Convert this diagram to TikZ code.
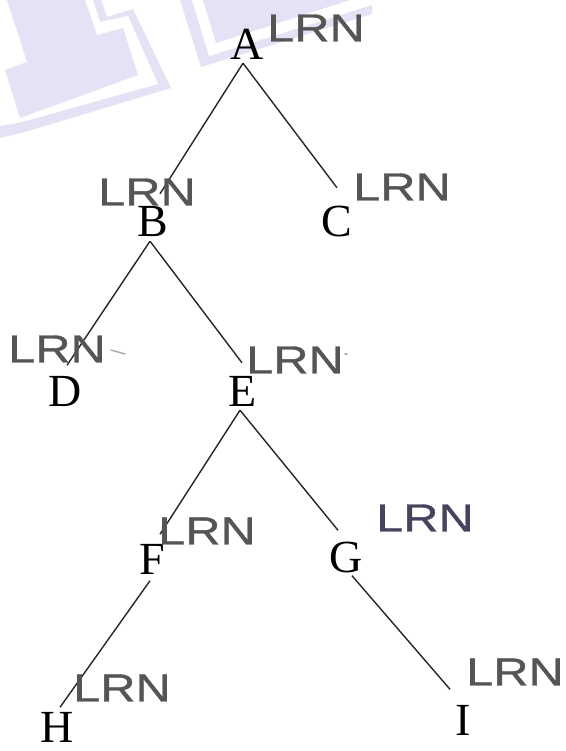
\documentclass[tikz,border=0pt]{standalone}
\usepackage{fontspec}
\setmainfont{Liberation Serif}
\newfontfamily\handfont[FakeStretch=1.25,FakeBold=0.8]{Liberation Sans}
\definecolor{wm}{HTML}{E4E2F4}
\definecolor{lrngray}{HTML}{555555}
\definecolor{lrnblue}{HTML}{44445F}
\begin{document}
\begin{tikzpicture}[x=1pt,y=-1pt,
  letter/.style={font=\fontsize{46}{46}\selectfont, inner sep=0pt, text height=33pt, text depth=0pt},
  lrn/.style={font=\handfont\fontsize{39}{39}\selectfont, text=lrngray, inner sep=0pt},
  edge/.style={line width=1.4pt, black!85},
  straymark/.style={line width=1.5pt, lrngray!50, line cap=round}]
\fill[white] (0,0) rectangle (565,751);
\useasboundingbox (0,0) rectangle (565,751);
% watermark
\fill[wm] (101,0) -- (107,17) -- (133,9) -- (171,88) -- (25,132) -- (0,138) -- (0,0) -- cycle;
\fill[white] (93,0) -- (100,22) -- (128,16) -- (158,84) -- (22,122) -- (0,126) -- (0,0) -- cycle;
\fill[wm] (7,0) -- (27,62) -- (5,70) -- (20,118) -- (138,75) -- (123,28) -- (97,35) -- (85,0) -- cycle;
\fill[wm] (180,0) -- (201,67) -- (372,14) -- (372,0) -- cycle;
\fill[white] (192,0) -- (209,56) -- (372,5) -- (372,0) -- cycle;
\fill[wm] (203,0) -- (216,43) -- (350,0) -- cycle;
% letters
\node[letter] (A) at (247,43.5) {A};
\node[letter] (B) at (153,219.5) {B};
\node[letter] (C) at (337,219.5) {C};
\node[letter] (D) at (65,390) {D};
\node[letter] (E) at (243,389.5) {E};
\node[letter] (F) at (152,558) {F};
\node[letter] (G) at (346,556) {G};
\node[letter] (H) at (57,726) {H};
\node[letter] (I) at (463,719) {I};
% edges
\draw[edge] ([xshift=-4pt,yshift=-3pt]A.south) -- ([xshift=7pt,yshift=9pt]B.north);
\draw[edge] ([xshift=-4pt,yshift=-3pt]A.south) -- ([yshift=15pt]C.north);
\draw[edge] ([xshift=-3pt,yshift=-5pt]B.south) -- ([xshift=2pt,yshift=8pt]D.north);
\draw[edge] ([xshift=-3pt,yshift=-5pt]B.south) -- ([xshift=-1pt,yshift=10pt]E.north);
\draw[edge] ([xshift=-3pt,yshift=-4pt]E.south) -- ([xshift=8pt,yshift=7pt]F.north);
\draw[edge] ([xshift=-3pt,yshift=-4pt]E.south) -- ([xshift=-8pt,yshift=9pt]G.north);
\draw[edge] ([xshift=-2pt,yshift=-6pt]F.south) -- ([xshift=3pt,yshift=2pt]H.north);
\draw[edge] ([xshift=6pt,yshift=-3pt]G.south) -- ([xshift=-13pt,yshift=13pt]I.north);
% annotations
\node[lrn] (lA) at (316,28) {LRN};
\node[lrn] (lB) at (147,192) {LRN};
\node[lrn] (lC) at (402,187) {LRN};
\node[lrn] (lD) at (57,349) {LRN};
\node[lrn] (lE) at (295,360) {LRN};
\node[lrn] (lF) at (207,531) {LRN};
\node[lrn, text=lrnblue] (lG) at (425,518) {LRN};
\node[lrn] (lH) at (122,688) {LRN};
\node[lrn] (lI) at (515,672) {LRN};
\draw[straymark] (111,350) -- (125,354);
\draw[straymark] (345,354) -- (347,354);
\end{tikzpicture}
\end{document}
